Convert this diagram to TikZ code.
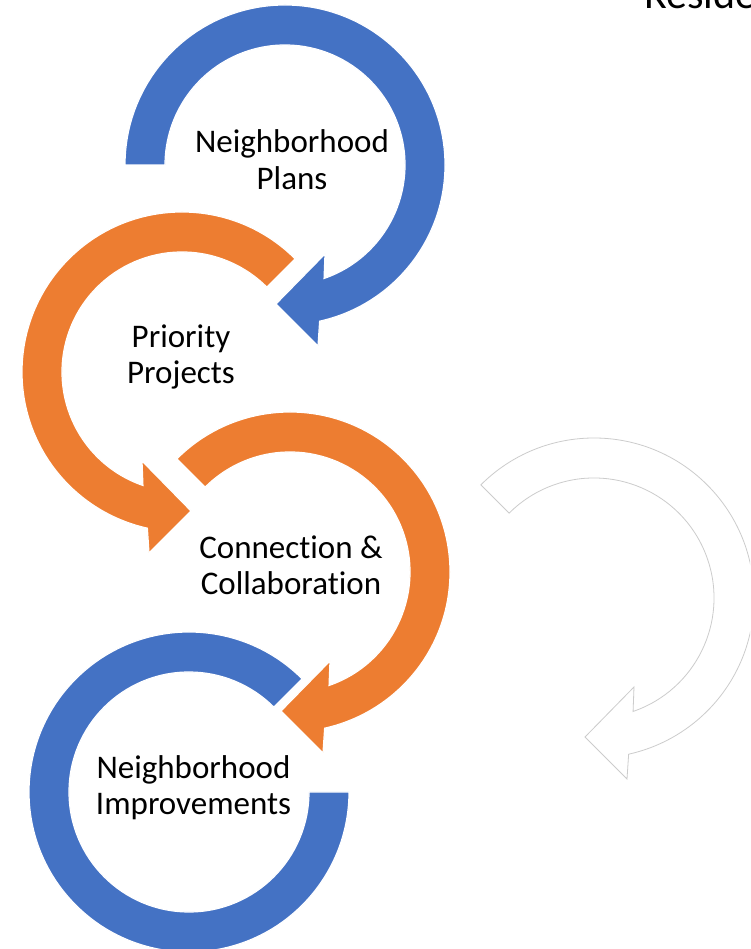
\documentclass[tikz,border=0pt]{standalone}
\usepackage{fontspec}
\setmainfont{Carlito}[Ligatures=NoCommon]
\definecolor{oblue}{HTML}{4472C4}
\definecolor{oorange}{HTML}{ED7D31}
\begin{document}
\begin{tikzpicture}[x=1pt,y=1pt,
  ringedge/.style={line width=1.2pt, draw=white, line join=miter},
  ghost/.style={line width=0.8pt, draw=black!20, fill=white, line join=miter},
  lbl/.style={font=\fontsize{33}{36.5}\selectfont, align=center, inner sep=0pt, text=black, anchor=base},
]
\useasboundingbox (0,0) rectangle (750,949);
\clip (0,0) rectangle (750,949);
\fill[white] (0,0) rectangle (750,949);

% white (ghost) circular arrow on the right
\begin{scope}[shift={(594,351)}]
\filldraw[ghost] (135:160) arc[start angle=135, end angle=-77.5, radius=160]
  -- (33,-181) -- (-9,-139) -- (40,-89) -- (-71:120)
  arc[start angle=-71, end angle=135, radius=120] -- cycle;
\end{scope}

% blue top arrow (Neighborhood Plans)
\begin{scope}[shift={(285,784)}]
\filldraw[ringedge, fill=oblue] (180:160) arc[start angle=180, end angle=-77.5, radius=160]
  -- (33,-181) -- (-9,-139) -- (40,-89) -- (-71:120)
  arc[start angle=-71, end angle=180, radius=120] -- cycle;
\end{scope}

% orange arrow (Priority Projects)
\begin{scope}[shift={(182,577)}]
\filldraw[ringedge, fill=oorange] (45:160) arc[start angle=45, end angle=257.5, radius=160]
  -- (-33,-181) -- (9,-139) -- (-40,-89) -- (251:120)
  arc[start angle=251, end angle=45, radius=120] -- cycle;
\end{scope}

% orange arrow (Connection & Collaboration)
\begin{scope}[shift={(290,377)}]
\filldraw[ringedge, fill=oorange] (135:160) arc[start angle=135, end angle=-77.5, radius=160]
  -- (33,-181) -- (-9,-139) -- (40,-89) -- (-71:120)
  arc[start angle=-71, end angle=135, radius=120] -- cycle;
\end{scope}

% blue ring (Neighborhood Improvements)
\begin{scope}[shift={(189,157)}]
\filldraw[ringedge, fill=oblue] (45:160) arc[start angle=45, end angle=360, radius=160]
  -- (0:120) arc[start angle=360, end angle=45, radius=120] -- cycle;
\end{scope}

\node[lbl] (plans) at (292,759.8) {Neighborhood\\Plans};
\node[lbl] (prio) at (181,565.2) {Priority\\Projects};
\node[lbl] (conn) at (291,354.2) {Connection \&\\Collaboration};
\node[lbl] (impr) at (193.5,134.2) {Neighborhood\\Improvements};
\node[font=\fontsize{42}{50}\selectfont, inner sep=0pt, anchor=base west] (res) at (644,940) {Residents};
\end{tikzpicture}
\end{document}
